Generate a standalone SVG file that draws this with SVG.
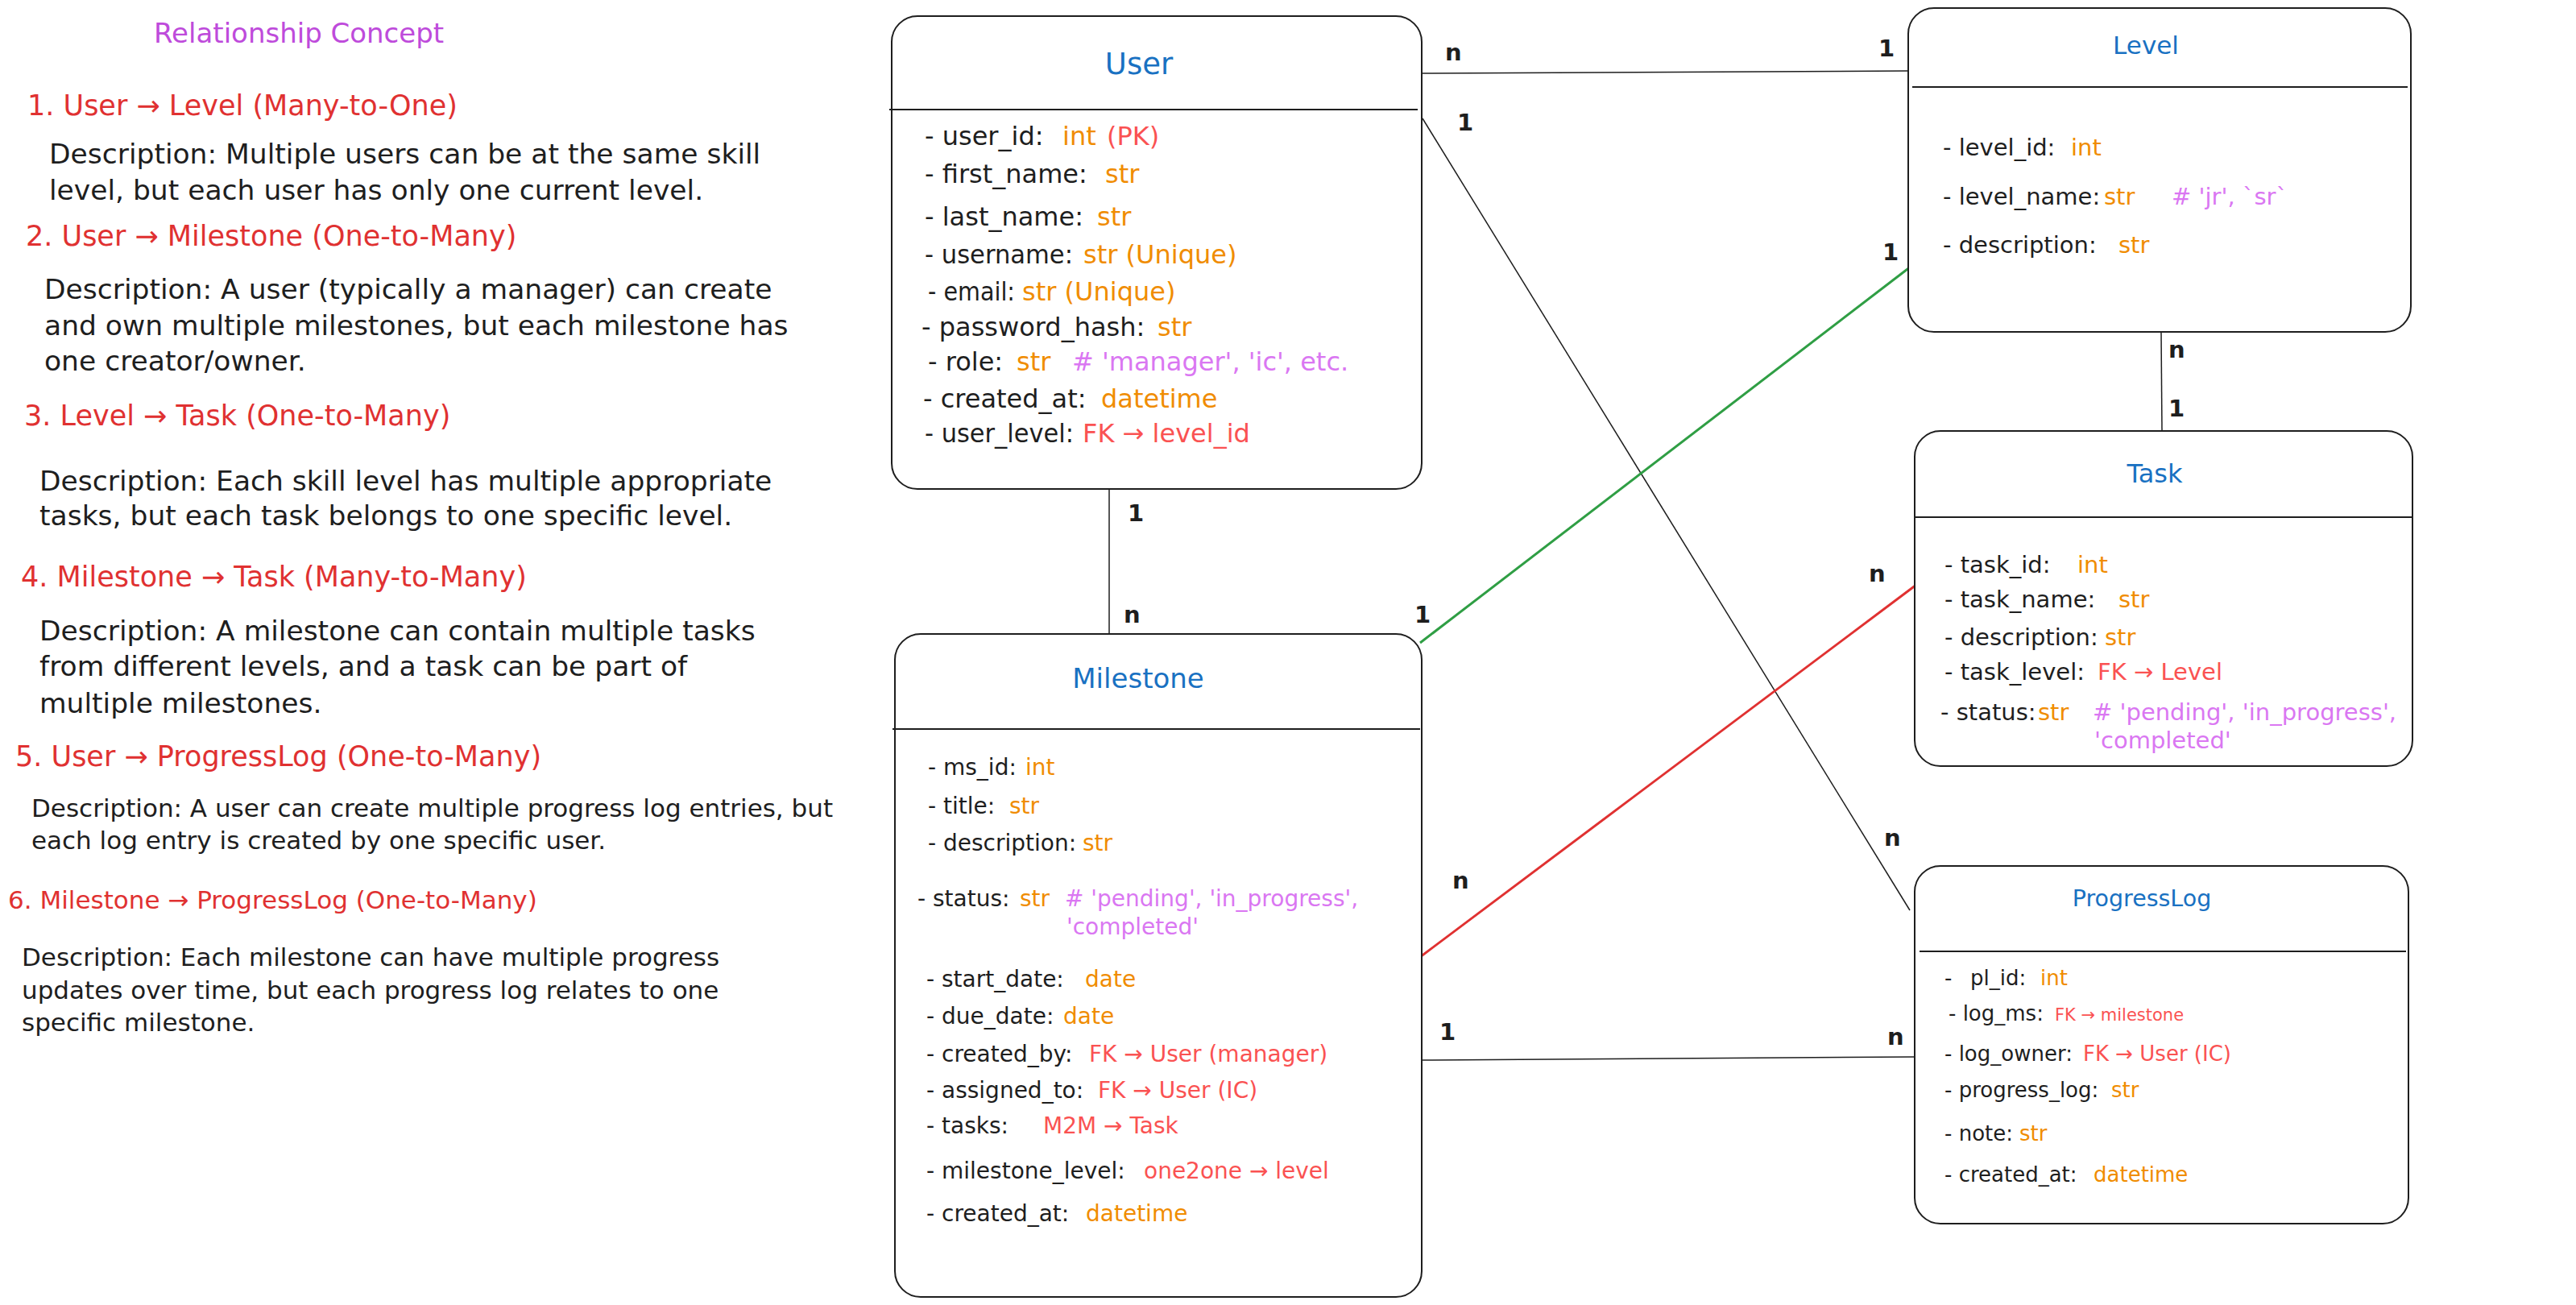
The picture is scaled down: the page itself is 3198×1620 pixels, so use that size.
<svg xmlns="http://www.w3.org/2000/svg" width="3198" height="1620" viewBox="0 0 3198 1620">
<style>
text{font-family:"DejaVu Sans",sans-serif;fill:#1e1e1e}
.h{fill:#e03131;font-size:35px}
.h6{fill:#e03131;font-size:31px}
.d{font-size:34.5px}
.d2{font-size:31px}
.o{fill:#f08c00}
.r{fill:#fa5252}
.p{fill:#da77f2}
.ttl{fill:#1971c2;text-anchor:middle}
.box{fill:#ffffff;stroke:#1e1e1e;stroke-width:2}
.dv{stroke:#1e1e1e;stroke-width:2}
.ln{stroke:#1e1e1e;stroke-width:1.5;fill:none}
.card{font-size:29px;font-weight:bold}
.fu{font-size:32px}
.fm{font-size:28px}
.fl{font-size:29px}
.fp{font-size:26px}
</style>
<rect width="3198" height="1620" fill="#ffffff"/>

<g id="relationship-concept">
<text x="191" y="53" style="fill:#be4bdb;font-size:34px">Relationship Concept</text>
<text class="h" x="34" y="143">1. User → Level (Many-to-One)</text>
<text class="d" x="61" y="203">Description: Multiple users can be at the same skill</text>
<text class="d" x="61" y="248">level, but each user has only one current level.</text>
<text class="h" x="32" y="305">2. User → Milestone (One-to-Many)</text>
<text class="d" x="55" y="371">Description: A user (typically a manager) can create</text>
<text class="d" x="55" y="416">and own multiple milestones, but each milestone has</text>
<text class="d" x="55" y="460">one creator/owner.</text>
<text class="h" x="30" y="528">3. Level → Task (One-to-Many)</text>
<text class="d" x="49" y="609">Description: Each skill level has multiple appropriate</text>
<text class="d" x="49" y="652">tasks, but each task belongs to one specific level.</text>
<text class="h" x="26" y="728">4. Milestone → Task (Many-to-Many)</text>
<text class="d" x="49" y="795">Description: A milestone can contain multiple tasks</text>
<text class="d" x="49" y="839">from different levels, and a task can be part of</text>
<text class="d" x="49" y="885">multiple milestones.</text>
<text class="h" x="19" y="951">5. User → ProgressLog (One-to-Many)</text>
<text class="d2" x="39" y="1014">Description: A user can create multiple progress log entries, but</text>
<text class="d2" x="39" y="1054">each log entry is created by one specific user.</text>
<text class="h6" x="10" y="1128">6. Milestone → ProgressLog (One-to-Many)</text>
<text class="d2" x="27" y="1199">Description: Each milestone can have multiple progress</text>
<text class="d2" x="27" y="1240">updates over time, but each progress log relates to one</text>
<text class="d2" x="27" y="1280">specific milestone.</text>
</g>

<g id="connectors">
<path class="ln" d="M1766 91 L2369 88"/>
<path class="ln" d="M1766 147 L2371 1130"/>
<path d="M1763 798 L2372 331" stroke="#2f9e44" stroke-width="3" fill="none"/>
<path d="M1763 1188 L2379 726" stroke="#e03131" stroke-width="3" fill="none"/>
<path class="ln" d="M1766 1316 L2377 1312"/>
<path class="ln" d="M1377 607 L1377 787"/>
<path class="ln" d="M2683 412 L2684 535"/>
<g class="card">
<text x="1794" y="75">n</text>
<text x="2332" y="70">1</text>
<text x="1809" y="162">1</text>
<text x="2339" y="1050">n</text>
<text x="1756" y="773">1</text>
<text x="2337" y="323">1</text>
<text x="1803" y="1103">n</text>
<text x="2320" y="722">n</text>
<text x="1787" y="1291">1</text>
<text x="2343" y="1297">n</text>
<text x="1400" y="647">1</text>
<text x="1395" y="773">n</text>
<text x="2692" y="444">n</text>
<text x="2692" y="517">1</text>
</g>
</g>

<g id="user">
<rect class="box" x="1107" y="20" width="658" height="587" rx="32"/>
<line class="dv" x1="1104" y1="136" x2="1760" y2="136"/>
<text class="ttl" x="1414" y="92" style="font-size:37px">User</text>
<g class="fu">
<text x="1148" y="180">- user_id:</text><text x="1319" y="180"><tspan class="o">int</tspan><tspan class="r" x="1374">(PK)</tspan></text>
<text x="1148" y="227">- first_name:</text><text class="o" x="1372" y="227">str</text>
<text x="1148" y="280">- last_name:</text><text class="o" x="1362" y="280">str</text>
<text x="1148" y="327" textLength="184" lengthAdjust="spacingAndGlyphs">- username:</text><text class="o" x="1345" y="327">str (Unique)</text>
<text x="1152" y="373" textLength="108" lengthAdjust="spacingAndGlyphs">- email:</text><text class="o" x="1269" y="373">str (Unique)</text>
<text x="1144" y="417">- password_hash:</text><text class="o" x="1437" y="417">str</text>
<text x="1152" y="460">- role:</text><text x="1262" y="460"><tspan class="o">str</tspan><tspan class="p" x="1331"># 'manager', 'ic', etc.</tspan></text>
<text x="1146" y="506">- created_at:</text><text class="o" x="1367" y="506">datetime</text>
<text x="1148" y="549" textLength="185" lengthAdjust="spacingAndGlyphs">- user_level:</text><text class="r" x="1344" y="549">FK → level_id</text>
</g>
</g>

<g id="level">
<rect class="box" x="2369" y="10" width="624" height="402" rx="32"/>
<line class="dv" x1="2374" y1="108" x2="2989" y2="108"/>
<text class="ttl" x="2664" y="67" style="font-size:31px">Level</text>
<g class="fl">
<text x="2412" y="193">- level_id:<tspan class="o" x="2571">int</tspan></text>
<text x="2412" y="254">- level_name:<tspan class="o" x="2612">str</tspan><tspan class="p" x="2696"># 'jr', `sr`</tspan></text>
<text x="2412" y="314">- description:<tspan class="o" x="2630">str</tspan></text>
</g>
</g>

<g id="task">
<rect class="box" x="2377" y="535" width="618" height="416" rx="32"/>
<line class="dv" x1="2377" y1="642" x2="2995" y2="642"/>
<text class="ttl" x="2675" y="599" style="font-size:32px">Task</text>
<g class="fl">
<text x="2414" y="711">- task_id:<tspan class="o" x="2579">int</tspan></text>
<text x="2414" y="754">- task_name:<tspan class="o" x="2630">str</tspan></text>
<text x="2414" y="801">- description:<tspan class="o" x="2613">str</tspan></text>
<text x="2414" y="844">- task_level:<tspan class="r" x="2604">FK → Level</tspan></text>
<text x="2409" y="894">- status:<tspan class="o" x="2530">str</tspan><tspan class="p" x="2598"># 'pending', 'in_progress',</tspan></text>
<text class="p" x="2600" y="929">'completed'</text>
</g>
</g>

<g id="milestone">
<rect class="box" x="1111" y="787" width="654" height="823" rx="32"/>
<line class="dv" x1="1108" y1="905" x2="1763" y2="905"/>
<text class="ttl" x="1413" y="854" style="font-size:34px">Milestone</text>
<g class="fm">
<text x="1152" y="962">- ms_id:<tspan class="o" x="1273">int</tspan></text>
<text x="1152" y="1010">- title:<tspan class="o" x="1253">str</tspan></text>
<text x="1152" y="1056">- description:<tspan class="o" x="1344">str</tspan></text>
<text x="1139" y="1125">- status:<tspan class="o" x="1266">str</tspan><tspan class="p" x="1322"># 'pending', 'in_progress',</tspan></text>
<text class="p" x="1324" y="1160">'completed'</text>
<text x="1150" y="1225">- start_date:<tspan class="o" x="1347">date</tspan></text>
<text x="1150" y="1271">- due_date:<tspan class="o" x="1320">date</tspan></text>
<text x="1150" y="1318">- created_by:<tspan class="r" x="1352">FK → User (manager)</tspan></text>
<text x="1150" y="1363">- assigned_to:<tspan class="r" x="1363">FK → User (IC)</tspan></text>
<text x="1150" y="1407">- tasks:<tspan class="r" x="1295">M2M → Task</tspan></text>
<text x="1150" y="1463">- milestone_level:<tspan class="r" x="1420">one2one → level</tspan></text>
<text x="1150" y="1516">- created_at:<tspan class="o" x="1348">datetime</tspan></text>
</g>
</g>

<g id="progresslog">
<rect class="box" x="2377" y="1075" width="613" height="444" rx="32"/>
<line class="dv" x1="2383" y1="1181" x2="2987" y2="1181"/>
<text class="ttl" x="2659" y="1125" style="font-size:28.5px">ProgressLog</text>
<g class="fp">
<text x="2414" y="1223">-<tspan x="2446">pl_id:</tspan><tspan class="o" x="2533">int</tspan></text>
<text x="2419" y="1267">- log_ms:<tspan class="r" x="2551" style="font-size:21px">FK → milestone</tspan></text>
<text x="2414" y="1317">- log_owner:<tspan class="r" x="2586">FK → User (IC)</tspan></text>
<text x="2414" y="1362">- progress_log:<tspan class="o" x="2621">str</tspan></text>
<text x="2414" y="1416">- note:<tspan class="o" x="2507">str</tspan></text>
<text x="2414" y="1467">- created_at:<tspan class="o" x="2599">datetime</tspan></text>
</g>
</g>
</svg>
